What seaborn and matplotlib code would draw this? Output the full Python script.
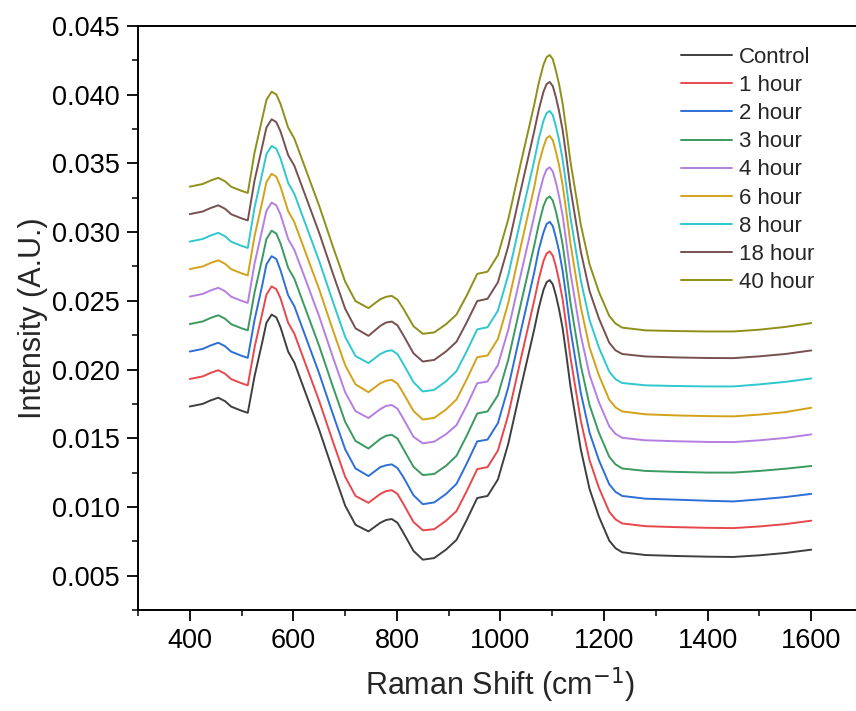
import matplotlib
matplotlib.use("Agg")
import matplotlib.pyplot as plt
from matplotlib.ticker import MultipleLocator, FormatStrFormatter
import seaborn as sns
import pandas as pd

shift = [400, 425, 440, 455, 468, 480, 500, 512, 525, 540, 548, 558, 567, 575, 590, 602, 625, 650,
         675, 700, 720, 745, 768, 779, 790, 801, 812, 832, 850, 872, 895, 915, 935, 955, 975, 995,
         1015, 1040, 1065, 1074, 1083, 1089, 1095, 1101, 1107, 1113, 1120, 1127, 1135, 1155, 1172,
         1190, 1210, 1222, 1235, 1280, 1340, 1400, 1450, 1500, 1550, 1600]

control = [0.01731, 0.01750, 0.01775, 0.01795, 0.01770, 0.01730, 0.01700, 0.01685, 0.01950, 0.02200,
           0.02340, 0.02400, 0.02380, 0.02310, 0.02130, 0.02050, 0.01815, 0.01560, 0.01280, 0.01010,
           0.00870, 0.00822, 0.00885, 0.00905, 0.00912, 0.00885, 0.00815, 0.00680, 0.00616, 0.00628,
           0.00690, 0.00760, 0.00907, 0.01065, 0.01080, 0.01200, 0.01460, 0.01880, 0.02290, 0.02450,
           0.02580, 0.02635, 0.02651, 0.02620, 0.02540, 0.02440, 0.02300, 0.02110, 0.01880, 0.01420,
           0.01130, 0.00930, 0.00755, 0.00700, 0.00670, 0.00650, 0.00643, 0.00638, 0.00636, 0.00648,
           0.00665, 0.00689]

hour_1 = [0.01931, 0.01950, 0.01975, 0.01995, 0.01970, 0.01930, 0.01900, 0.01885, 0.02160, 0.02410,
          0.02545, 0.02605, 0.02585, 0.02520, 0.02340, 0.02260, 0.02025, 0.01770, 0.01490, 0.01220,
          0.01080, 0.01030, 0.01095, 0.01115, 0.01122, 0.01095, 0.01025, 0.00890, 0.00830, 0.00838,
          0.00900, 0.00970, 0.01117, 0.01275, 0.01290, 0.01410, 0.01670, 0.02090, 0.02500, 0.02659,
          0.02790, 0.02844, 0.02860, 0.02829, 0.02750, 0.02649, 0.02510, 0.02320, 0.02090, 0.01630,
          0.01340, 0.01140, 0.00965, 0.00910, 0.00880, 0.00860, 0.00853, 0.00848, 0.00846, 0.00858,
          0.00875, 0.00900]

hour_2 = [0.02131, 0.02150, 0.02175, 0.02195, 0.02170, 0.02130, 0.02100, 0.02085, 0.02360, 0.02615,
          0.02765, 0.02825, 0.02805, 0.02725, 0.02540, 0.02460, 0.02225, 0.01970, 0.01690, 0.01420,
          0.01280, 0.01225, 0.01290, 0.01303, 0.01310, 0.01283, 0.01220, 0.01085, 0.01020, 0.01033,
          0.01095, 0.01168, 0.01317, 0.01477, 0.01490, 0.01610, 0.01870, 0.02292, 0.02705, 0.02874,
          0.02998, 0.03059, 0.03075, 0.03044, 0.02960, 0.02864, 0.02717, 0.02527, 0.02295, 0.01832,
          0.01540, 0.01340, 0.01165, 0.01110, 0.01080, 0.01060, 0.01053, 0.01045, 0.01040, 0.01055,
          0.01072, 0.01095]

hour_3 = [0.02331, 0.02350, 0.02375, 0.02395, 0.02370, 0.02330, 0.02300, 0.02285, 0.02560, 0.02810,
          0.02950, 0.03010, 0.02990, 0.02920, 0.02740, 0.02660, 0.02425, 0.02170, 0.01890, 0.01620,
          0.01480, 0.01425, 0.01495, 0.01518, 0.01525, 0.01498, 0.01425, 0.01292, 0.01232, 0.01240,
          0.01300, 0.01372, 0.01520, 0.01680, 0.01695, 0.01812, 0.02072, 0.02490, 0.02900, 0.03059,
          0.03190, 0.03244, 0.03260, 0.03229, 0.03150, 0.03049, 0.02910, 0.02720, 0.02490, 0.02030,
          0.01740, 0.01540, 0.01365, 0.01310, 0.01280, 0.01262, 0.01255, 0.01250, 0.01250, 0.01262,
          0.01278, 0.01298]

hour_4 = [0.02531, 0.02550, 0.02575, 0.02595, 0.02570, 0.02530, 0.02500, 0.02485, 0.02770, 0.03020,
          0.03155, 0.03215, 0.03195, 0.03130, 0.02950, 0.02870, 0.02640, 0.02385, 0.02105, 0.01835,
          0.01697, 0.01647, 0.01712, 0.01735, 0.01742, 0.01715, 0.01645, 0.01510, 0.01463, 0.01475,
          0.01530, 0.01595, 0.01740, 0.01900, 0.01913, 0.02032, 0.02290, 0.02705, 0.03115, 0.03271,
          0.03400, 0.03456, 0.03472, 0.03441, 0.03362, 0.03261, 0.03120, 0.02930, 0.02705, 0.02250,
          0.01960, 0.01762, 0.01587, 0.01532, 0.01503, 0.01485, 0.01478, 0.01473, 0.01472, 0.01485,
          0.01502, 0.01528]

hour_6 = [0.02731, 0.02750, 0.02775, 0.02795, 0.02770, 0.02730, 0.02700, 0.02685, 0.02970, 0.03222,
          0.03364, 0.03424, 0.03404, 0.03332, 0.03152, 0.03072, 0.02837, 0.02582, 0.02302, 0.02032,
          0.01892, 0.01835, 0.01900, 0.01918, 0.01925, 0.01898, 0.01830, 0.01698, 0.01636, 0.01648,
          0.01710, 0.01782, 0.01930, 0.02090, 0.02102, 0.02222, 0.02485, 0.02910, 0.03325, 0.03499,
          0.03620, 0.03684, 0.03700, 0.03669, 0.03585, 0.03489, 0.03342, 0.03152, 0.02920, 0.02455,
          0.02160, 0.01958, 0.01780, 0.01725, 0.01695, 0.01674, 0.01666, 0.01661, 0.01659, 0.01672,
          0.01690, 0.01722]

hour_8 = [0.02931, 0.02950, 0.02975, 0.02995, 0.02970, 0.02930, 0.02900, 0.02885, 0.03178, 0.03428,
          0.03567, 0.03627, 0.03607, 0.03538, 0.03358, 0.03278, 0.03043, 0.02788, 0.02508, 0.02238,
          0.02098, 0.02047, 0.02113, 0.02133, 0.02140, 0.02113, 0.02043, 0.01908, 0.01840, 0.01852,
          0.01915, 0.01988, 0.02135, 0.02292, 0.02308, 0.02428, 0.02688, 0.03108, 0.03518, 0.03681,
          0.03810, 0.03866, 0.03882, 0.03851, 0.03770, 0.03671, 0.03530, 0.03340, 0.03110, 0.02650,
          0.02360, 0.02160, 0.01985, 0.01930, 0.01902, 0.01885, 0.01880, 0.01877, 0.01877, 0.01892,
          0.01910, 0.01935]

hour_18 = [0.03131, 0.03150, 0.03175, 0.03195, 0.03170, 0.03130, 0.03100, 0.03085, 0.03375, 0.03625,
           0.03761, 0.03821, 0.03801, 0.03735, 0.03560, 0.03482, 0.03248, 0.02993, 0.02713, 0.02443,
           0.02300, 0.02245, 0.02318, 0.02342, 0.02349, 0.02322, 0.02252, 0.02118, 0.02058, 0.02070,
           0.02132, 0.02202, 0.02345, 0.02498, 0.02515, 0.02635, 0.02897, 0.03320, 0.03732, 0.03892,
           0.04022, 0.04077, 0.04093, 0.04062, 0.03982, 0.03882, 0.03742, 0.03552, 0.03320, 0.02860,
           0.02570, 0.02372, 0.02195, 0.02140, 0.02113, 0.02095, 0.02088, 0.02084, 0.02083, 0.02096,
           0.02113, 0.02139]

hour_40 = [0.03331, 0.03350, 0.03375, 0.03395, 0.03370, 0.03330, 0.03300, 0.03285, 0.03578, 0.03828,
           0.03962, 0.04022, 0.04002, 0.03935, 0.03760, 0.03680, 0.03445, 0.03190, 0.02910, 0.02640,
           0.02498, 0.02447, 0.02512, 0.02529, 0.02536, 0.02509, 0.02445, 0.02315, 0.02260, 0.02270,
           0.02330, 0.02400, 0.02540, 0.02696, 0.02712, 0.02832, 0.03093, 0.03515, 0.03925, 0.04088,
           0.04218, 0.04273, 0.04289, 0.04258, 0.04175, 0.04078, 0.03935, 0.03745, 0.03515, 0.03055,
           0.02765, 0.02565, 0.02390, 0.02335, 0.02305, 0.02285, 0.02280, 0.02277, 0.02277, 0.02290,
           0.02310, 0.02338]

labels = ["Control", "1 hour", "2 hour", "3 hour", "4 hour", "6 hour", "8 hour", "18 hour", "40 hour"]
colors = ["#3f3f3f", "#e8474c", "#2d6fd6", "#3a9a60", "#b47fe0", "#d2a21a", "#2fc8cf", "#785050", "#8e901a"]
series = [control, hour_1, hour_2, hour_3, hour_4, hour_6, hour_8, hour_18, hour_40]

rows = []
for lab, vals in zip(labels, series):
    assert len(vals) == len(shift), lab
    for xv, yv in zip(shift, vals):
        rows.append({"shift": xv, "intensity": yv, "series": lab})
df = pd.DataFrame(rows)

sns.set_theme(style="ticks")
plt.rcParams["font.family"] = ["Liberation Sans", "DejaVu Sans"]

fig = plt.figure(figsize=(8.56, 7.11), dpi=100)
ax = fig.add_axes([138 / 856, 1 - 610 / 711, (863 - 138) / 856, (610 - 26) / 711])

sns.lineplot(data=df, x="shift", y="intensity", hue="series", hue_order=labels,
             palette=dict(zip(labels, colors)), estimator=None, sort=True,
             linewidth=1.4, ax=ax)

ax.set_xlim(300, 1700)
ax.set_ylim(0.0025, 0.045)
ax.xaxis.set_major_locator(MultipleLocator(200))
ax.xaxis.set_minor_locator(MultipleLocator(100))
ax.yaxis.set_major_locator(MultipleLocator(0.005))
ax.yaxis.set_minor_locator(MultipleLocator(0.0025))
ax.yaxis.set_major_formatter(FormatStrFormatter("%.3f"))
ax.tick_params(axis="both", which="major", direction="out", length=8, width=1.3,
               labelsize=19.5, colors="black", pad=5)
ax.tick_params(axis="both", which="minor", direction="out", length=4, width=1.3)
for s in ax.spines.values():
    s.set_linewidth(1.4)
    s.set_color("black")
ax.spines["right"].set_visible(False)

ax.set_xlabel("Raman Shift (cm$^{-1}$)", fontsize=22, labelpad=8)
ax.set_ylabel("Intensity (A.U.)", fontsize=22, labelpad=3)

ax.legend(loc="upper left", bbox_to_anchor=((681 - 138) / (863 - 138), 1 - (47 - 26) / (610 - 26)),
          frameon=False, fontsize=16, handlelength=2.3, handletextpad=0.3,
          labelspacing=0.32, borderaxespad=0, borderpad=0)

fig.savefig("out.png", dpi=100)
